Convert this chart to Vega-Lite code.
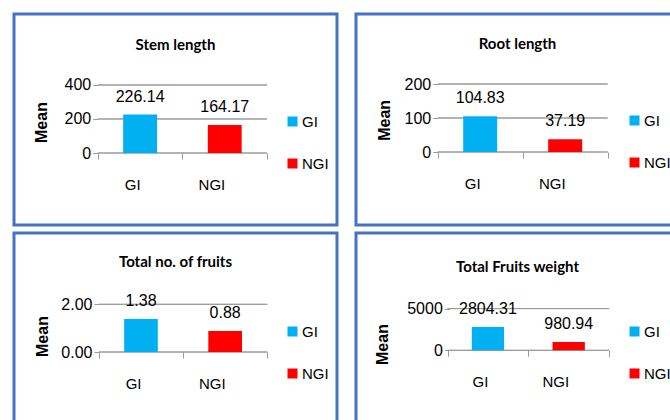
{
  "$schema": "https://vega.github.io/schema/vega-lite/v6.json",
  "padding": {"left": 12, "top": 12, "right": 0, "bottom": 0},
  "background": "white",
  "data": {
    "values": [
      {"trait": "Stem length", "group": "GI", "mean": 226.14},
      {"trait": "Stem length", "group": "NGI", "mean": 164.17},
      {"trait": "Root length", "group": "GI", "mean": 104.83},
      {"trait": "Root length", "group": "NGI", "mean": 37.19},
      {"trait": "Total no. of fruits", "group": "GI", "mean": 1.38},
      {"trait": "Total no. of fruits", "group": "NGI", "mean": 0.88},
      {"trait": "Total Fruits weight", "group": "GI", "mean": 2804.31},
      {"trait": "Total Fruits weight", "group": "NGI", "mean": 980.94}
    ]
  },
  "config": {
    "view": {"stroke": "#4472C4", "strokeWidth": 3},
    "title": {"font": "Lato", "fontSize": 15, "fontWeight": "bold", "color": "black", "anchor": "middle", "baseline": "middle"},
    "axis": {"labelFont": "Liberation Sans", "labelColor": "black", "labelFontSize": 16, "tickColor": "#9a9a9a", "grid": false, "domain": false, "titleFont": "Liberation Sans", "titleFontSize": 16, "titleFontWeight": "bold", "titleColor": "black"},
    "legend": {"labelFont": "Liberation Sans", "labelFontSize": 15, "labelColor": "black", "symbolType": "square", "symbolSize": 100, "symbolStrokeWidth": 0, "rowPadding": 26, "labelOffset": 2, "padding": 0, "orient": "none", "legendX": 271}
  },
  "resolve": {"scale": {"y": "independent", "x": "independent", "color": "independent"}, "legend": {"color": "independent"}},
  "spacing": 4,
  "vconcat": [
    {
      "spacing": 15,
      "resolve": {"scale": {"y": "independent", "x": "independent", "color": "independent"}, "legend": {"color": "independent"}},
      "hconcat": [
        {
          "width": 323, "height": 211,
          "title": {"text": "Stem length", "offset": -39},
          "transform": [{"filter": "datum.trait === 'Stem length'"}],
          "layer": [
            {"mark": {"type": "rule", "color": "#9a9a9a"}, "encoding": {"x": {"datum": "GI", "type": "nominal", "bandPosition": 0}, "x2": {"datum": "NGI", "bandPosition": 1}, "y": {"datum": 400, "type": "quantitative"}}},
            {"mark": {"type": "rule", "color": "#9a9a9a"}, "encoding": {"x": {"datum": "GI", "type": "nominal", "bandPosition": 0}, "x2": {"datum": "NGI", "bandPosition": 1}, "y": {"datum": 200, "type": "quantitative"}}},
            {"mark": {"type": "rule", "color": "#9a9a9a"}, "encoding": {"x": {"datum": "GI", "type": "nominal", "bandPosition": 0}, "x2": {"datum": "NGI", "bandPosition": 1}, "y": {"datum": 0, "type": "quantitative"}}},
            {
              "mark": {"type": "bar", "width": {"band": 0.4}},
              "encoding": {
                "x": {"field": "group", "type": "nominal", "scale": {"type": "band", "domain": ["GI", "NGI"], "paddingInner": 0, "paddingOuter": 0.908, "align": 0.545},
                  "axis": {"orient": "bottom", "offset": -72, "tickBand": "extent", "tickSize": 6, "labelFontSize": 15, "labelPadding": 25, "labelAngle": 0, "title": null}},
                "y": {"field": "mean", "type": "quantitative", "scale": {"domain": [-423.5, 817.6], "nice": false, "zero": false},
                  "axis": {"orient": "left", "offset": -83.7, "values": [0, 200, 400], "tickSize": 5, "labelPadding": 2, "title": "Mean", "titleX": -55.7, "titleY": 108, "titleAngle": -90, "titleBaseline": "middle"}},
                "color": {"field": "group", "type": "nominal", "scale": {"domain": ["GI", "NGI"], "range": ["#00B0F0", "#FF0000"]}, "legend": {"title": null, "legendY": 100}}
              }
            },
            {
              "mark": {"type": "text", "font": "Liberation Sans", "fontSize": 16, "dy": -13, "baseline": "alphabetic", "color": "black"},
              "encoding": {"x": {"field": "group", "type": "nominal"}, "y": {"field": "mean", "type": "quantitative"}, "text": {"field": "mean", "type": "quantitative", "format": ".2f"}}
            }
          ]
        },
        {
          "width": 323, "height": 211,
          "title": {"text": "Root length", "offset": -37.6},
          "transform": [{"filter": "datum.trait === 'Root length'"}],
          "layer": [
            {"mark": {"type": "rule", "color": "#9a9a9a"}, "encoding": {"x": {"datum": "GI", "type": "nominal", "bandPosition": 0}, "x2": {"datum": "NGI", "bandPosition": 1}, "y": {"datum": 200, "type": "quantitative"}}},
            {"mark": {"type": "rule", "color": "#9a9a9a"}, "encoding": {"x": {"datum": "GI", "type": "nominal", "bandPosition": 0}, "x2": {"datum": "NGI", "bandPosition": 1}, "y": {"datum": 100, "type": "quantitative"}}},
            {"mark": {"type": "rule", "color": "#9a9a9a"}, "encoding": {"x": {"datum": "GI", "type": "nominal", "bandPosition": 0}, "x2": {"datum": "NGI", "bandPosition": 1}, "y": {"datum": 0, "type": "quantitative"}}},
            {
              "mark": {"type": "bar", "width": {"band": 0.4}},
              "encoding": {
                "x": {"field": "group", "type": "nominal", "scale": {"type": "band", "domain": ["GI", "NGI"], "paddingInner": 0, "paddingOuter": 0.9, "align": 0.534},
                  "axis": {"orient": "bottom", "offset": -73, "tickBand": "extent", "tickSize": 6, "labelFontSize": 15, "labelPadding": 25, "labelAngle": 0, "title": null}},
                "y": {"field": "mean", "type": "quantitative", "scale": {"domain": [-214.7, 405.9], "nice": false, "zero": false},
                  "axis": {"orient": "left", "offset": -81.7, "values": [0, 100, 200], "tickSize": 5, "labelPadding": 2, "title": "Mean", "titleX": -53.7, "titleY": 105.8, "titleAngle": -90, "titleBaseline": "middle"}},
                "color": {"field": "group", "type": "nominal", "scale": {"domain": ["GI", "NGI"], "range": ["#00B0F0", "#FF0000"]}, "legend": {"title": null, "legendY": 99}}
              }
            },
            {
              "mark": {"type": "text", "font": "Liberation Sans", "fontSize": 16, "dy": -13, "baseline": "alphabetic", "color": "black"},
              "encoding": {"x": {"field": "group", "type": "nominal"}, "y": {"field": "mean", "type": "quantitative"}, "text": {"field": "mean", "type": "quantitative", "format": ".2f"}}
            }
          ]
        }
      ]
    },
    {
      "spacing": 15,
      "resolve": {"scale": {"y": "independent", "x": "independent", "color": "independent"}, "legend": {"color": "independent"}},
      "hconcat": [
        {
          "width": 323, "height": 200,
          "title": {"text": "Total no. of fruits", "offset": -37},
          "transform": [{"filter": "datum.trait === 'Total no. of fruits'"}],
          "layer": [
            {"mark": {"type": "rule", "color": "#9a9a9a"}, "encoding": {"x": {"datum": "GI", "type": "nominal", "bandPosition": 0}, "x2": {"datum": "NGI", "bandPosition": 1}, "y": {"datum": 2, "type": "quantitative"}}},
            {"mark": {"type": "rule", "color": "#9a9a9a"}, "encoding": {"x": {"datum": "GI", "type": "nominal", "bandPosition": 0}, "x2": {"datum": "NGI", "bandPosition": 1}, "y": {"datum": 0, "type": "quantitative"}}},
            {
              "mark": {"type": "bar", "width": {"band": 0.4}},
              "encoding": {
                "x": {"field": "group", "type": "nominal", "scale": {"type": "band", "domain": ["GI", "NGI"], "paddingInner": 0, "paddingOuter": 0.919, "align": 0.549},
                  "axis": {"orient": "bottom", "offset": -81, "tickBand": "extent", "tickSize": 6, "labelFontSize": 15, "labelPadding": 25, "labelAngle": 0, "title": null}},
                "y": {"field": "mean", "type": "quantitative", "scale": {"domain": [-3.396, 4.99], "nice": false, "zero": false},
                  "axis": {"orient": "left", "offset": -85, "values": [0, 2], "format": ".2f", "tickSize": 5, "labelPadding": 2, "title": "Mean", "titleX": -57, "titleY": 103, "titleAngle": -90, "titleBaseline": "middle"}},
                "color": {"field": "group", "type": "nominal", "scale": {"domain": ["GI", "NGI"], "range": ["#00B0F0", "#FF0000"]}, "legend": {"title": null, "legendY": 91}}
              }
            },
            {
              "mark": {"type": "text", "font": "Liberation Sans", "fontSize": 16, "dy": -13, "baseline": "alphabetic", "color": "black"},
              "encoding": {"x": {"field": "group", "type": "nominal"}, "y": {"field": "mean", "type": "quantitative"}, "text": {"field": "mean", "type": "quantitative", "format": ".2f"}}
            }
          ]
        },
        {
          "width": 323, "height": 200,
          "title": {"text": "Total Fruits weight", "offset": -42.3},
          "transform": [{"filter": "datum.trait === 'Total Fruits weight'"}],
          "layer": [
            {"mark": {"type": "rule", "color": "#9a9a9a"}, "encoding": {"x": {"datum": "GI", "type": "nominal", "bandPosition": 0}, "x2": {"datum": "NGI", "bandPosition": 1}, "y": {"datum": 5000, "type": "quantitative"}}},
            {"mark": {"type": "rule", "color": "#9a9a9a"}, "encoding": {"x": {"datum": "GI", "type": "nominal", "bandPosition": 0}, "x2": {"datum": "NGI", "bandPosition": 1}, "y": {"datum": 0, "type": "quantitative"}}},
            {
              "mark": {"type": "bar", "width": {"band": 0.4}},
              "encoding": {
                "x": {"field": "group", "type": "nominal", "scale": {"type": "band", "domain": ["GI", "NGI"], "paddingInner": 0, "paddingOuter": 1.039, "align": 0.567},
                  "axis": {"orient": "bottom", "offset": -82.7, "tickBand": "extent", "tickSize": 6, "labelFontSize": 15, "labelPadding": 25, "labelAngle": 0, "title": null}},
                "y": {"field": "mean", "type": "quantitative", "scale": {"domain": [-9916, 14064], "nice": false, "zero": false},
                  "axis": {"orient": "left", "offset": -93.3, "values": [0, 5000], "format": "d", "tickSize": 5, "labelPadding": 2, "title": "Mean", "titleX": -66.6, "titleY": 111, "titleAngle": -90, "titleBaseline": "middle"}},
                "color": {"field": "group", "type": "nominal", "scale": {"domain": ["GI", "NGI"], "range": ["#00B0F0", "#FF0000"]}, "legend": {"title": null, "legendY": 91}}
              }
            },
            {
              "mark": {"type": "text", "font": "Liberation Sans", "fontSize": 16, "dy": -13, "baseline": "alphabetic", "color": "black"},
              "encoding": {"x": {"field": "group", "type": "nominal"}, "y": {"field": "mean", "type": "quantitative"}, "text": {"field": "mean", "type": "quantitative", "format": ".2f"}}
            }
          ]
        }
      ]
    }
  ]
}
